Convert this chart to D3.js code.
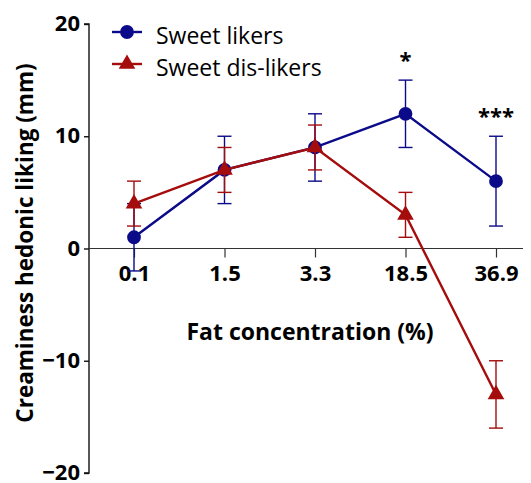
<!DOCTYPE html>
<html>
<head>
<meta charset="utf-8">
<script src="https://cdn.jsdelivr.net/npm/d3@7"></script>
<style>
  html, body { margin: 0; padding: 0; background: #fff; }
  svg { display: block; }
  text { font-family: "Open Sans", "Noto Sans", sans-serif; }
</style>
</head>
<body>
<svg id="chart" width="531" height="483"></svg>
<script>
// Fat concentration levels (x categories)
const fatLevels = ["0.1", "1.5", "3.3", "18.5", "36.9"];

// Sweet likers: mean and error bar (± half-width)
const likersMean = [1, 7, 9, 12, 6];
const likersErr  = [3, 3, 3, 3, 4];

// Sweet dis-likers: mean and error bar
const dislikersMean = [4, 7, 9, 3, -13];
const dislikersErr  = [2, 2, 2, 2, 3];

// Significance markers per category
const sigMarks = ["", "", "", "*", "***"];

const yTicks = [-20, -10, 0, 10, 20];

const blue = "#0b0b8a";
const red = "#a50c0c";

const svg = d3.select("#chart");

const x = d3.scalePoint().domain(fatLevels).range([134, 496]);
const y = d3.scaleLinear().domain([-20, 20]).range([473, 24]);

const axisX = 89;

// Y axis
const yAxis = svg.append("g")
  .attr("transform", `translate(${axisX},0)`)
  .call(d3.axisLeft(y).tickValues(yTicks).tickSize(5).tickPadding(4).tickFormat(d3.format("d")));
yAxis.select(".domain").attr("d", `M-5,${y(20)}H0V${y(-20)}H-5`)
  .attr("stroke", "#111").attr("stroke-width", 1.4);
yAxis.selectAll(".tick line").attr("stroke", "#111").attr("stroke-width", 1.4);
yAxis.selectAll(".tick text")
  .attr("font-size", 22).attr("font-weight", "bold").attr("fill", "#000")
  .attr("dy", "0.3em")
  .attr("font-family", "'Open Sans', sans-serif");

// X axis along zero line
const xAxis = svg.append("g")
  .attr("transform", `translate(0,${y(0)})`)
  .call(d3.axisBottom(x).tickSize(9).tickPadding(8));
xAxis.select(".domain").attr("d", `M${axisX},0H523`).attr("stroke", "#333").attr("stroke-width", 1.2);
xAxis.selectAll(".tick line").attr("stroke", "#333").attr("stroke-width", 1.2);
xAxis.selectAll(".tick text")
  .attr("font-size", 22).attr("font-weight", "bold").attr("fill", "#000")
  .attr("font-family", "'Open Sans', sans-serif");

// Axis titles
svg.append("text")
  .attr("x", 310).attr("y", 340)
  .attr("text-anchor", "middle")
  .attr("font-size", 23).attr("font-weight", "bold")
  .text("Fat concentration (%)");

svg.append("text")
  .attr("transform", `translate(33,243) rotate(-90)`)
  .attr("text-anchor", "middle")
  .attr("font-size", 22.5).attr("font-weight", "bold")
  .text("Creaminess hedonic liking (mm)");

const lineGen = d3.line().x((d, i) => x(fatLevels[i])).y(d => y(d));

function drawSeries(means, errs, color, symbolType, symbolSize) {
  const g = svg.append("g");
  // error bars
  means.forEach((m, i) => {
    const cx = x(fatLevels[i]);
    const top = y(m + errs[i]), bot = y(m - errs[i]);
    g.append("line").attr("x1", cx).attr("x2", cx).attr("y1", top).attr("y2", bot)
      .attr("stroke", color).attr("stroke-width", 1.4);
    [top, bot].forEach(yy => {
      g.append("line").attr("x1", cx - 7).attr("x2", cx + 7).attr("y1", yy).attr("y2", yy)
        .attr("stroke", color).attr("stroke-width", 1.4);
    });
  });
  g.append("path").datum(means).attr("d", lineGen)
    .attr("fill", "none").attr("stroke", color).attr("stroke-width", 2.4);
  g.selectAll("path.sym").data(means).enter().append("path")
    .attr("class", "sym")
    .attr("transform", (d, i) => `translate(${x(fatLevels[i])},${y(d)})`)
    .attr("d", d3.symbol().type(symbolType).size(symbolSize))
    .attr("fill", color);
}

drawSeries(likersMean, likersErr, blue, d3.symbolCircle, 150);
drawSeries(dislikersMean, dislikersErr, red, d3.symbolTriangle, 120);

// Significance asterisks above the upper error of sweet likers
sigMarks.forEach((s, i) => {
  if (!s) return;
  svg.append("text")
    .attr("x", x(fatLevels[i]))
    .attr("y", y(likersMean[i] + likersErr[i]) - 12)
    .attr("text-anchor", "middle")
    .attr("font-size", 22).attr("font-weight", "bold")
    .text(s);
});

// Legend
const legend = [
  { label: "Sweet likers", color: blue, type: d3.symbolCircle, size: 150, y: 32 },
  { label: "Sweet dis-likers", color: red, type: d3.symbolTriangle, size: 120, y: 64 }
];
legend.forEach(l => {
  svg.append("line").attr("x1", 112).attr("x2", 142).attr("y1", l.y).attr("y2", l.y)
    .attr("stroke", l.color).attr("stroke-width", 2.4);
  svg.append("path").attr("transform", `translate(127,${l.y})`)
    .attr("d", d3.symbol().type(l.type).size(l.size)).attr("fill", l.color);
  svg.append("text").attr("x", 156).attr("y", l.y + 12)
    .attr("font-size", 23).text(l.label);
});
</script>
</body>
</html>
